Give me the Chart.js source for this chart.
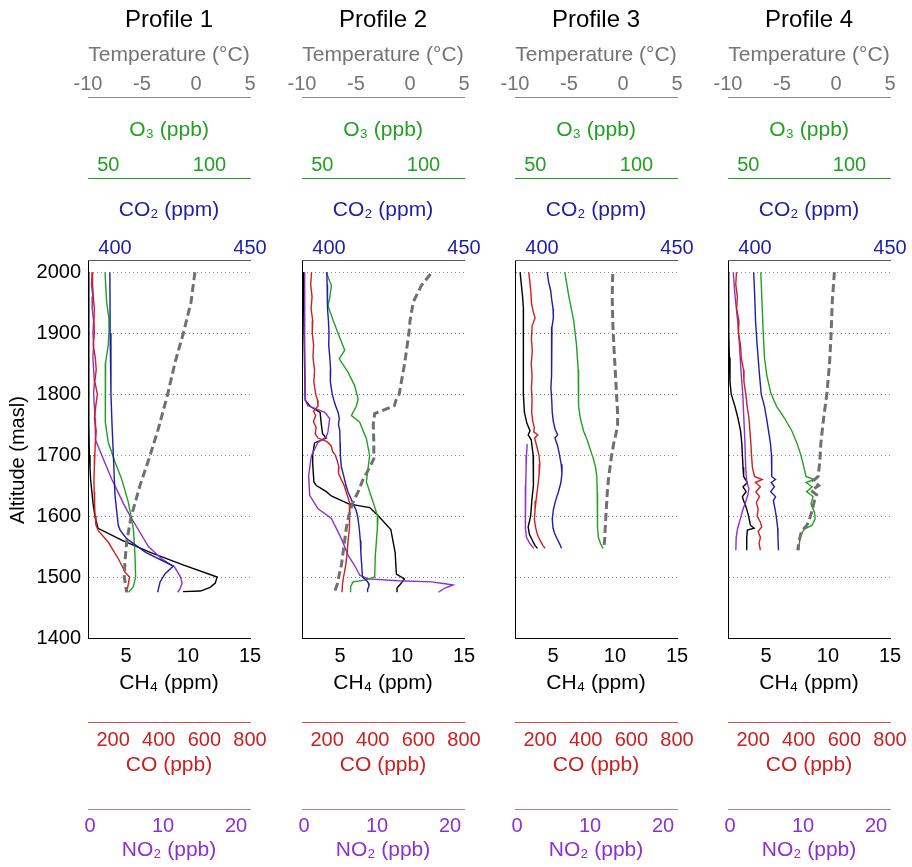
<!DOCTYPE html>
<html><head><meta charset="utf-8">
<script src="https://cdn.jsdelivr.net/npm/chart.js@4.4.1/dist/chart.umd.min.js"></script>
<style>
html,body{margin:0;padding:0;background:#fff;}
body{width:912px;height:867px;overflow:hidden;position:relative;}
canvas{position:absolute;top:0;}
</style></head><body>
<script>
// ---------- tick labels ----------
const ALT_TICKS  = [1400,1500,1600,1700,1800,1900,2000];
const TEMP_TICKS = [-10,-5,0,5];
const O3_TICKS   = [50,100];
const CO2_TICKS  = [400,450];
const CH4_TICKS  = [5,10,15];
const CO_TICKS   = [200,400,600,800];
const NO2_TICKS  = [0,10,20];

const PROFILE_TITLES = ["Profile 1","Profile 2","Profile 3","Profile 4"];

// ---------- data: [altitude (masl), value] ----------
// Profile 1
const p1Temp = [[2000,-0.1],[1951,-0.46],[1900,-1.17],[1852,-1.94],[1800,-2.62],[1743,-3.49],[1699,-4.26],[1650,-5.19],[1598,-6.02],[1557,-6.42],[1525,-6.58],[1500,-6.64],[1475,-6.42]];
const p1O3 = [[2000,48.4],[1951,49.2],[1925,50.3],[1907,50.4],[1880,50.0],[1852,48.7],[1798,48.4],[1754,48.7],[1721,50.0],[1689,53.3],[1661,56.6],[1623,59.9],[1579,62.4],[1536,63.2],[1500,63.5],[1484,62.4],[1475,60.0]];
const p1CO2 = [[2000,398.1],[1900,398.2],[1800,398.5],[1750,398.9],[1699,399.4],[1634,400.0],[1585,401.2],[1577,401.9],[1563,404.3],[1540,411.5],[1518,421.6],[1505,418.5],[1492,416.7],[1475,415.8]];
const p1CH4 = [[2000,2.0],[1900,2.0],[1800,2.0],[1750,2.02],[1700,2.05],[1680,2.1],[1660,2.15],[1640,2.25],[1620,2.35],[1600,2.5],[1580,2.75],[1560,4.7],[1540,7.0],[1520,9.6],[1500,12.35],[1490,12.2],[1483,11.8],[1477,11.0],[1476,9.6]];
const p1CO = [[2000,109],[1980,110],[1960,113],[1940,118],[1920,116],[1900,118],[1880,113],[1860,122],[1840,126],[1820,120],[1800,131],[1780,124],[1760,118],[1740,126],[1720,122],[1700,120],[1680,118],[1660,116],[1640,117],[1620,119],[1600,121],[1585,125],[1576,135],[1557,179],[1530,223],[1519,238],[1508,252],[1500,272],[1489,267],[1475,260]];
const p1NO2 = [[2000,0.3],[1980,0.2],[1960,0.4],[1940,0.3],[1920,0.5],[1900,0.4],[1880,0.5],[1860,0.4],[1840,0.5],[1820,0.6],[1800,0.5],[1780,0.6],[1760,0.7],[1740,0.7],[1725,0.8],[1700,1.6],[1680,2.3],[1660,3.0],[1640,3.8],[1620,4.6],[1600,5.5],[1580,6.5],[1550,8.0],[1530,9.8],[1516,11.6],[1500,12.4],[1490,12.6],[1480,12.3],[1475,12.0]];

// Profile 2
const p2Temp = [[1997,1.9],[1978,1.05],[1951,0.3],[1920,0.0],[1900,-0.1],[1850,-0.5],[1800,-1.0],[1790,-1.3],[1781,-1.45],[1768,-3.27],[1750,-3.4],[1720,-3.35],[1694,-3.35],[1680,-3.73],[1660,-4.35],[1640,-4.8],[1620,-5.34],[1600,-5.68],[1580,-5.9],[1560,-6.05],[1540,-6.2],[1520,-6.35],[1500,-6.6],[1490,-6.7],[1480,-6.9],[1475,-7.0]];
const p2O3 = [[2000,52.0],[1978,54.5],[1960,53.8],[1945,52.8],[1920,55.5],[1900,57.8],[1872,61.1],[1858,58.4],[1836,62.7],[1814,66.0],[1792,67.7],[1781,66.9],[1765,64.4],[1754,68.5],[1727,71.8],[1699,73.4],[1678,72.6],[1656,71.8],[1623,75.1],[1598,77.5],[1579,77.2],[1535,76.2],[1500,75.9],[1495,71.0],[1492,65.2],[1484,64.0],[1475,64.0]];
const p2CO2 = [[2000,399.2],[1980,399.3],[1960,399.5],[1940,399.4],[1920,399.8],[1900,400.0],[1880,399.9],[1860,400.3],[1840,400.6],[1820,400.5],[1800,401.2],[1790,401.8],[1780,402.5],[1770,403.4],[1760,403.8],[1750,403.5],[1740,404.0],[1720,404.1],[1700,404.2],[1680,404.6],[1665,405.5],[1650,406.3],[1640,407.0],[1630,408.0],[1620,409.0],[1610,410.0],[1600,410.6],[1580,411.2],[1560,411.6],[1540,411.8],[1520,412.1],[1500,412.4],[1495,413.8],[1490,414.6],[1485,414.8],[1480,414.3],[1475,414.3]];
const p2CH4 = [[2000,2.05],[1900,2.1],[1790,2.2],[1780,2.6],[1770,3.4],[1750,3.5],[1735,3.6],[1728,3.9],[1720,2.95],[1700,2.8],[1686,2.8],[1656,2.9],[1650,3.1],[1640,3.9],[1633,4.3],[1620,5.7],[1614,7.4],[1600,8.1],[1578,9.1],[1540,9.45],[1505,9.55],[1497,10.2],[1489,9.9],[1482,9.6],[1475,9.6]];
const p2CO = [[2000,132],[1980,128],[1960,134],[1940,130],[1920,137],[1900,135],[1880,141],[1860,138],[1840,145],[1820,142],[1800,150],[1790,158],[1780,160],[1772,140],[1765,150],[1755,140],[1745,152],[1735,148],[1728,160],[1722,200],[1715,218],[1705,225],[1700,236],[1690,245],[1680,252],[1670,250],[1660,262],[1650,275],[1640,283],[1630,292],[1620,300],[1600,300],[1580,296],[1560,292],[1540,288],[1520,282],[1500,272],[1490,268],[1475,265]];
const p2NO2 = [[2000,0.1],[1900,0.1],[1800,0.15],[1790,0.2],[1781,0.55],[1770,2.84],[1760,3.52],[1738,3.28],[1730,3.06],[1721,1.93],[1699,1.02],[1667,0.64],[1634,0.78],[1612,1.93],[1596,3.75],[1563,5.12],[1536,6.03],[1514,7.17],[1503,7.63],[1497,8.77],[1494,12.9],[1492,17.45],[1489,19.3],[1487,20.4],[1482,19.3],[1475,18.4]];

// Profile 3
const p3Temp = [[1997,-0.95],[1960,-1.0],[1920,-0.95],[1880,-0.85],[1840,-0.72],[1800,-0.6],[1770,-0.5],[1750,-0.5],[1735,-0.65],[1720,-0.85],[1700,-1.05],[1680,-1.2],[1660,-1.35],[1640,-1.45],[1610,-1.55],[1580,-1.65],[1560,-1.7],[1547,-1.78]];
const p3O3 = [[2000,64.6],[1960,66.6],[1920,69.0],[1880,70.4],[1840,71.2],[1800,71.3],[1780,71.5],[1760,72.3],[1740,73.8],[1725,75.6],[1710,77.1],[1695,78.6],[1680,79.8],[1665,80.4],[1640,80.6],[1600,80.7],[1580,80.8],[1565,81.2],[1555,82.2],[1547,83.5]];
const p3CO2 = [[2000,401.9],[1985,402.4],[1970,403.2],[1955,403.6],[1940,404.1],[1925,404.2],[1910,403.7],[1890,403.5],[1870,403.7],[1850,403.4],[1830,403.6],[1810,403.3],[1790,403.6],[1770,403.8],[1755,404.2],[1742,404.9],[1733,405.8],[1728,404.8],[1715,405.8],[1700,406.5],[1685,407.1],[1670,407.4],[1655,407.0],[1640,406.1],[1625,405.0],[1610,404.2],[1595,403.8],[1580,404.1],[1570,404.8],[1560,405.9],[1552,406.8],[1547,407.2]];
const p3CH4 = [[2000,2.35],[1980,2.45],[1960,2.55],[1940,2.62],[1900,2.6],[1850,2.62],[1800,2.62],[1770,2.7],[1752,2.9],[1740,3.15],[1733,3.0],[1725,3.25],[1700,3.4],[1680,3.45],[1650,3.4],[1626,3.3],[1600,3.2],[1582,3.0],[1570,3.1],[1560,3.35],[1552,3.55],[1547,3.75]];
const p3CO = [[2000,150],[1985,155],[1965,160],[1950,162],[1935,170],[1925,178],[1912,165],[1890,162],[1870,166],[1850,161],[1830,165],[1810,162],[1790,165],[1770,163],[1755,168],[1745,175],[1738,172],[1733,190],[1728,176],[1715,185],[1700,195],[1685,199],[1670,196],[1655,192],[1640,187],[1625,182],[1610,178],[1595,175],[1582,180],[1570,188],[1560,200],[1552,212],[1547,222]];
const p3NO2 = [[1718,1.4],[1700,1.3],[1680,1.25],[1650,1.2],[1620,1.15],[1600,1.15],[1580,1.15],[1565,1.3],[1556,1.7],[1547,2.3]];

// Profile 4
const p4Temp = [[2000,-0.15],[1950,-0.35],[1900,-0.45],[1850,-0.6],[1800,-0.85],[1760,-1.15],[1720,-1.4],[1690,-1.5],[1665,-1.65],[1658,-2.1],[1650,-1.6],[1642,-2.3],[1635,-1.8],[1625,-2.0],[1610,-2.2],[1595,-2.45],[1585,-2.7],[1575,-3.2],[1560,-3.4],[1544,-3.55]];
const p4O3 = [[2000,56.2],[1950,56.8],[1900,57.4],[1860,58.0],[1830,59.2],[1800,61.3],[1780,64.0],[1760,68.0],[1740,71.5],[1720,74.0],[1700,76.0],[1680,77.5],[1665,78.5],[1660,82.5],[1655,78.6],[1648,81.5],[1640,78.8],[1632,82.0],[1620,81.0],[1605,82.8],[1595,83.0],[1585,81.5],[1578,77.5],[1565,75.5],[1544,75.0]];
const p4CO2 = [[2000,399.5],[1960,399.9],[1920,400.2],[1880,400.8],[1840,401.5],[1800,402.3],[1780,403.5],[1760,404.3],[1740,405.0],[1720,405.7],[1700,406.1],[1680,406.2],[1665,406.2],[1660,407.6],[1655,406.0],[1648,407.2],[1640,405.8],[1632,407.6],[1625,406.8],[1610,407.5],[1595,408.0],[1580,408.4],[1565,408.5],[1544,408.7]];
const p4CH4 = [[2000,2.0],[1900,2.0],[1860,2.05],[1820,2.1],[1800,2.2],[1780,2.5],[1760,2.75],[1740,2.95],[1720,3.05],[1700,3.1],[1680,3.15],[1665,3.2],[1655,3.5],[1648,3.15],[1640,3.4],[1632,3.1],[1625,3.2],[1615,3.4],[1600,3.6],[1585,3.75],[1580,4.05],[1577,3.5],[1565,3.45],[1544,3.45]];
const p4CO = [[2000,127],[1980,124],[1960,131],[1940,128],[1920,138],[1900,136],[1880,145],[1860,148],[1840,158],[1820,160],[1800,168],[1780,174],[1760,182],[1740,186],[1720,190],[1700,193],[1680,197],[1665,206],[1660,240],[1655,210],[1648,232],[1640,212],[1632,228],[1622,214],[1612,222],[1600,218],[1590,232],[1582,238],[1575,222],[1565,232],[1555,226],[1544,232]];
const p4NO2 = [[2000,0.45],[1960,0.7],[1920,1.05],[1880,1.3],[1840,1.5],[1800,1.75],[1760,1.9],[1720,2.05],[1680,2.15],[1655,2.3],[1645,2.6],[1635,2.45],[1625,2.2],[1610,1.75],[1595,1.4],[1580,1.05],[1565,0.85],[1544,0.8]];

const PANELS = [
  {temp:p1Temp, o3:p1O3, co2:p1CO2, ch4:p1CH4, co:p1CO, no2:p1NO2},
  {temp:p2Temp, o3:p2O3, co2:p2CO2, ch4:p2CH4, co:p2CO, no2:p2NO2},
  {temp:p3Temp, o3:p3O3, co2:p3CO2, ch4:p3CH4, co:p3CO, no2:p3NO2},
  {temp:p4Temp, o3:p4O3, co2:p4CO2, ch4:p4CH4, co:p4CO, no2:p4NO2}
];

// ---------- style / layout ----------
const FONT = "'Liberation Sans', Arial, Helvetica, sans-serif";
Chart.defaults.font.family = FONT;
Chart.defaults.font.size = 20;

const C = {
  temp:'#707070', tempText:'#747474',
  o3:'#22a022', co2:'#1e1ea8', co:'#cc2020', no2:'#8c30d0', ch4:'#000000',
  no2Line:'#a47ad8', coLine:'#c85050'
};

const TICK = 20, TITLE = 21, LH = TICK*1.2, TLH = TITLE*1.2;
const CANVAS_W = 280, CANVAS_H = 867, YAXIS_W = 88, PAD_R = 30;
const PLOT_LEFTS = [88, 302, 515, 728];

// top axis: line at L (bottom), label centre lc, title centre tc, box top bt
function topAxis(weight, min, max, ticks, col, lineCol, text, L, lc, tc, bt) {
  const tl = L - lc - LH/2, padT = tc - TLH/2 - bt, H = L - bt;
  const padB = H - tl - LH - TLH - padT;
  return axis('top', weight, min, max, ticks, col, lineCol, text, tl, padT, padB, H);
}
// bottom axis: line at L (top), label centre lc, title centre tc, box bottom bb
function bottomAxis(weight, min, max, ticks, col, lineCol, text, L, lc, tc, bb) {
  const tl = lc - L - LH/2, padB = bb - tc - TLH/2, H = bb - L;
  const padT = H - tl - LH - TLH - padB;
  return axis('bottom', weight, min, max, ticks, col, lineCol, text, tl, padT, padB, H);
}
function axis(pos, weight, min, max, ticks, col, lineCol, text, tl, padT, padB, H) {
  return {
    type:'linear', position:pos, weight, min, max,
    afterBuildTicks: s => { s.ticks = ticks.map(v => ({value:v})); },
    afterFit: s => { s.height = H; s.paddingLeft = 0; s.paddingRight = 0; },
    grid: {display:false, drawTicks:true, tickLength:tl, drawOnChartArea:false},
    border: {display:true, color:lineCol, width:1},
    ticks: {color:col, padding:0, maxRotation:0, autoSkip:false,
            font:{size:TICK, family:FONT}, callback: v => String(v)},
    title: {display:true, text, color:col, font:{size:TITLE, family:FONT},
            padding:{top:padT, bottom:padB}}
  };
}

function toXY(arr) { return arr.map(([a, v]) => ({x:v, y:a})); }

function makePanel(i) {
  const s = PANELS[i], showY = i === 0;
  const cv = document.createElement('canvas');
  cv.width = CANVAS_W; cv.height = CANVAS_H;
  cv.style.left = (PLOT_LEFTS[i] - YAXIS_W) + 'px';
  cv.style.width = CANVAS_W + 'px'; cv.style.height = CANVAS_H + 'px';
  document.body.appendChild(cv);

  const ds = (data, axisId, color, extra) => Object.assign({
    data: toXY(data), xAxisID: axisId, yAxisID: 'y', showLine: true,
    borderColor: color, backgroundColor: color, borderWidth: 1.4,
    pointRadius: 0, pointHoverRadius: 0, fill: false, tension: 0
  }, extra || {});

  new Chart(cv, {
    type: 'scatter',
    data: { datasets: [
      ds(s.temp, 'xT', C.temp, {borderWidth:3, borderDash:[8,4]}),
      ds(s.co2, 'xCO2', C.co2),
      ds(s.o3, 'xO3', C.o3),
      ds(s.co, 'xCO', C.co),
      ds(s.no2, 'xNO2', C.no2),
      ds(s.ch4, 'xCH4', C.ch4)
    ]},
    options: {
      responsive: false, animation: false, devicePixelRatio: 1,
      layout: {padding: {left:0, top:0, right:PAD_R, bottom:0}},
      plugins: {
        legend: {display:false}, tooltip: {enabled:false},
        title: {display:true, text: PROFILE_TITLES[i], color:'#000', fullSize:false,
                font:{size:24, weight:'normal', family:FONT}, padding:{top:5.6, bottom:0}}
      },
      scales: {
        y: {
          type:'linear', position:'left', min:1400, max:2020,
          afterBuildTicks: sc => { sc.ticks = ALT_TICKS.map(v => ({value:v})); },
          afterFit: sc => { sc.width = YAXIS_W; },
          grid: {drawTicks:false, lineWidth:1,
                 color: c => (c.tick && c.tick.value === 1400) ? 'rgba(0,0,0,0)' : '#8a8a8a'},
          border: {display:true, color:'#000', width:1, dash:[1,3]},
          ticks: {display:showY, padding:7, color:'#000', font:{size:20, family:FONT},
                  callback: v => String(v)},
          title: {display:showY, text:'Altitude (masl)    ', color:'#000',
                  font:{size:20, family:FONT}, padding:{top:6, bottom:0}}
        },
        xCO2: topAxis(0, 390, 450, CO2_TICKS, C.co2, '#555577', 'CO\u2082 (ppm)', 260, 248, 210, 178),
        xO3:  topAxis(1, 40, 120, O3_TICKS, C.o3, C.o3, 'O\u2083 (ppb)', 178, 165, 130, 97),
        xT:   topAxis(2, -10, 5, TEMP_TICKS, C.tempText, '#8a8a8a', 'Temperature (\u00b0C)', 97, 84, 55, 34.4),
        xCH4: bottomAxis(0, 1.94, 15, CH4_TICKS, C.ch4, '#000', 'CH\u2084 (ppm)', 638, 656, 683, 722),
        xCO:  bottomAxis(1, 90, 800, CO_TICKS, C.co, C.coLine, 'CO (ppb)', 722, 740, 765, 809),
        xNO2: bottomAxis(2, -0.27, 21.9, NO2_TICKS, C.no2, C.no2Line, 'NO\u2082 (ppb)', 809, 826, 850, 867)
      }
    }
  });
}
for (let i = 0; i < 4; i++) makePanel(i);
</script>
</body></html>
